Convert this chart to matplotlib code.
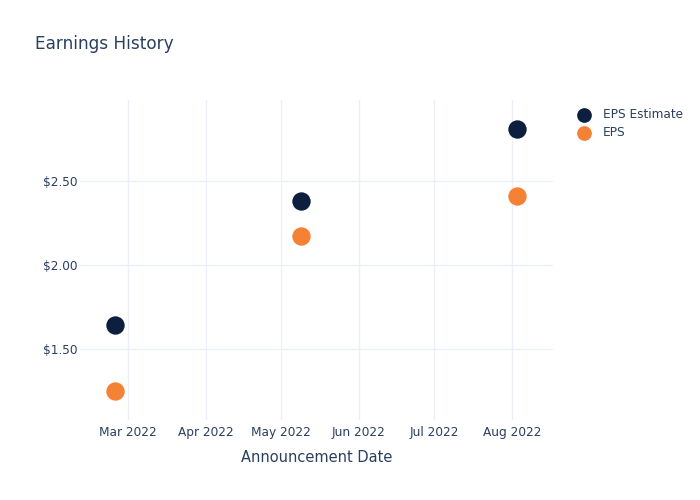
import numpy as np
import pandas as pd
import matplotlib
matplotlib.use('Agg')
import matplotlib.pyplot as plt
import matplotlib.dates as mdates
from matplotlib.ticker import FuncFormatter

# data
dates = pd.to_datetime(['2022-02-24', '2022-05-09', '2022-08-03'])
eps_estimate = [1.64, 2.38, 2.81]
eps_actual = [1.25, 2.17, 2.41]

text_col = '#2a3f5f'
grid_col = '#ebf0f8'
navy = '#0c1f3f'
orange = '#f58134'

fig = plt.figure(figsize=(7, 5), dpi=100)
ax = fig.add_axes([80/700, 80/500, 473/700, 320/500])

ax.scatter(dates, eps_estimate, s=175, color=navy, label='EPS Estimate', zorder=3, linewidths=0)
ax.scatter(dates, eps_actual, s=175, color=orange, label='EPS', zorder=3, linewidths=0)

ax.set_xlim(pd.Timestamp('2022-02-10'), pd.Timestamp('2022-08-17 08:00'))
ax.set_ylim(1.077, 2.982)
ax.set_yticks([1.5, 2.0, 2.5])
ax.yaxis.set_major_formatter(FuncFormatter(lambda v, p: f'${v:.2f}'))
ax.xaxis.set_major_locator(mdates.MonthLocator())
ax.xaxis.set_major_formatter(mdates.DateFormatter('%b %Y'))

ax.grid(True, color=grid_col, linewidth=1)
ax.set_axisbelow(True)
for s in ax.spines.values():
    s.set_visible(False)
ax.tick_params(length=0, colors=text_col, labelsize=8.7)
ax.tick_params(axis='x', pad=4)
ax.tick_params(axis='y', pad=2)
ax.set_xlabel('Announcement Date', color=text_col, fontsize=10.5, labelpad=8)

fig.text(35/700, 1 - 44/500, 'Earnings History', color=text_col, fontsize=12.2, va='center')

leg = ax.legend(loc='upper left', bbox_to_anchor=(1.018, 1.01), frameon=False,
                fontsize=8.7, labelcolor=text_col, handletextpad=0.5,
                labelspacing=0.45, markerscale=0.8)

fig.savefig('out.png', dpi=100)
